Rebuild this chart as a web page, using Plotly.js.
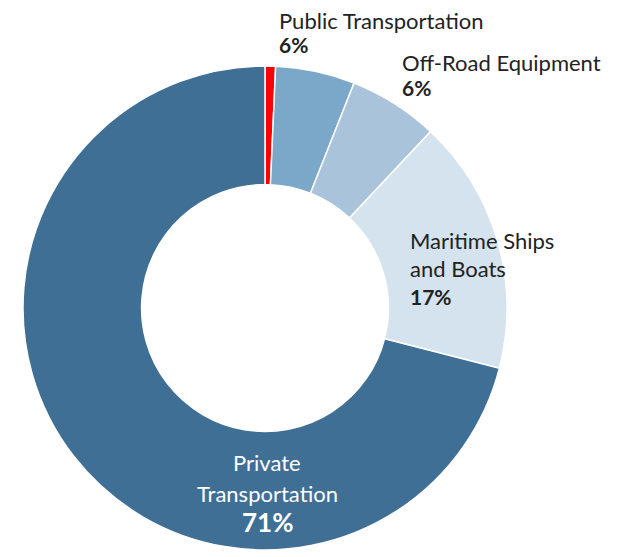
<!DOCTYPE html>
<html>
<head>
<meta charset="utf-8">
<script src="https://cdn.plot.ly/plotly-3.0.1.min.js"></script>
<style>html,body{margin:0;padding:0;background:#fff;}#chart{width:621px;height:557px;}</style>
</head>
<body>
<div id="chart"></div>
<script>
// Data
const categories = ["Public Transportation", "Off-Road Equipment", "Maritime Ships and Boats", "Private Transportation"];
const shares = [6, 6, 17, 71];
const shareLabels = ["6%", "6%", "17%", "71%"];
// thin red marker drawn at the start of the first slice (part of Public Transportation)
const markerShare = 0.7;
const sliceColors = ["#7ba7c9", "#a9c4da", "#d5e3ef", "#3f6f95"];

const W = 621, H = 557;
const px = (x) => x / W;
const py = (y) => 1 - y / H;

const values = [markerShare, shares[0] - markerShare, shares[1], shares[2], shares[3]];
const labels = ["marker", categories[0], categories[1], categories[2], categories[3]];
const colors = ["#ff0000", sliceColors[0], sliceColors[1], sliceColors[2], sliceColors[3]];

const cx = 265, cy = 308, R = 242;
const trace = {
  type: "pie",
  values: values,
  labels: labels,
  hole: 0.51,
  sort: false,
  direction: "clockwise",
  rotation: 0,
  textinfo: "none",
  hoverinfo: "none",
  marker: {colors: colors, line: {color: "#ffffff", width: 1.5}},
  domain: {x: [px(cx - R), px(cx + R)], y: [py(cy + R), py(cy - R)]},
  showlegend: false
};

const FONT = "Lato, 'Open Sans', sans-serif";
function ann(text, x, y, opts) {
  return Object.assign({
    text: text, x: px(x), y: py(y), xref: "paper", yref: "paper",
    xanchor: "left", yanchor: "middle", showarrow: false,
    font: {family: FONT, size: 22, color: "#222222"}
  }, opts || {});
}
const pctFont = {family: FONT, size: 21, color: "#222"};
const whiteFont = {family: FONT, size: 22, color: "#ffffff"};
const annotations = [
  ann(categories[0], 277, 20),
  ann("<b>" + shareLabels[0] + "</b>", 277, 45, {font: pctFont}),
  ann(categories[1], 400, 62),
  ann("<b>" + shareLabels[1] + "</b>", 400, 88, {font: pctFont}),
  ann("Maritime Ships", 408, 240),
  ann("and Boats", 408, 268),
  ann("<b>" + shareLabels[2] + "</b>", 408, 296, {font: pctFont}),
  ann("Private", 267, 462, {xanchor: "center", font: whiteFont}),
  ann("Transportation", 267, 493, {xanchor: "center", font: whiteFont}),
  ann("<b>" + shareLabels[3] + "</b>", 267, 522, {xanchor: "center", font: {family: FONT, size: 26, color: "#ffffff"}})
];

Plotly.newPlot("chart", [trace], {
  width: W, height: H,
  margin: {l: 0, r: 0, t: 0, b: 0},
  paper_bgcolor: "#ffffff",
  annotations: annotations
}, {staticPlot: true});
</script>
</body>
</html>
